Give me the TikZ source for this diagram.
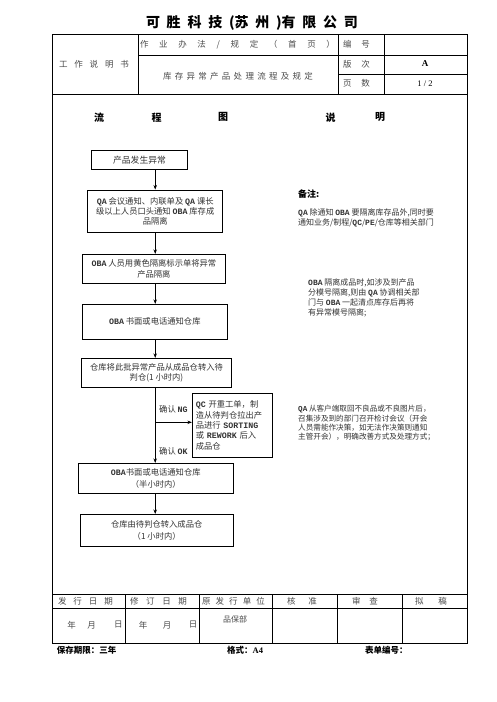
\documentclass[tikz,border=0pt]{standalone}
\usepackage{fontspec}
\setmainfont{Noto Sans CJK SC}
\newfontfamily\latmono{Liberation Mono}
\newfontfamily\latserif{Liberation Serif}
\newcommand\lat[1]{{\latmono\bfseries #1}}
\usetikzlibrary{arrows.meta}
\begin{document}
\begin{tikzpicture}[x=1pt,y=-1pt,
  every node/.style={inner sep=0pt, text=black!80},
  box/.style={draw=black, line width=0.8pt, align=center, font=\fontsize{8.3}{10.3}\selectfont},
  arr/.style={line width=0.8pt, -{Stealth[length=4.5pt,width=3.5pt]}},
  frame/.style={line width=0.8pt},
  cell/.style={font=\fontsize{8.5}{10}\selectfont, text=black!70},
  head/.style={font=\bfseries\fontsize{10}{12}\selectfont, text=black},
  note/.style={align=left, anchor=north west, font=\fontsize{8}{10}\selectfont},
  foot/.style={anchor=west, font=\bfseries\fontsize{8.5}{10}\selectfont, text=black},
  ]
\useasboundingbox (0,0) rectangle (496,702);
\fill[white] (0,0) rectangle (496,702);
% title
\node[font=\bfseries\fontsize{14}{16}\selectfont, text=black] (title) at (252,23) {\makebox[212pt][s]{可 胜 科 技 (苏 州 )有 限 公 司}};
% frame
\draw[frame] (52,34) rectangle (467,643);
\draw[frame] (52,94) -- (467,94);
\draw[frame] (138,34) -- (138,94) (338,34) -- (338,94) (384,34) -- (384,94);
\draw[frame] (138,55) -- (467,55) (338,74.5) -- (467,74.5);
\draw[frame] (52,594) -- (467,594) (52,608) -- (467,608);
\foreach \xx in {125.7,199.3,272.3,337.3,402.3} \draw[frame] (\xx,594) -- (\xx,643);
% header texts
\node[cell] (h1) at (94,64) {\makebox[70pt][s]{工 作 说 明 书}};
\node[cell] (h2) at (237.5,44.5) {\makebox[195pt][s]{作 业 办 法 / 规 定 （ 首 页 ）}};
\node[cell] (h3) at (238,76.5) {\makebox[150pt][s]{库 存 异 常 产 品 处 理 流 程 及 规 定}};
\node[cell] (h4) at (356.5,44.5) {\makebox[27pt][s]{编 号}};
\node[cell] (h5) at (356.5,64) {\makebox[27pt][s]{版 次}};
\node[cell] (h6) at (356.5,83.5) {\makebox[27pt][s]{页 数}};
\node[font=\latserif\bfseries\fontsize{9}{10}\selectfont, text=black] (h7) at (425,64) {A};
\node[font=\latserif\fontsize{8.5}{10}\selectfont, text=black] (h8) at (425,83.5) {1 / 2};
% headings
\node[head] (g1) at (99,117.3) {流};
\node[head] (g2) at (156.7,117.3) {程};
\node[head] (g3) at (223,117.3) {图};
\node[head] (g4) at (330.7,117.3) {说};
\node[head] (g5) at (380,117.3) {明};
% flow boxes
\coordinate (ax) at (155.2,0);
\node[box, minimum width=95.6pt, minimum height=19.3pt, font=\fontsize{8.8}{10.3}\selectfont] (b1) at (139.5,159.7) {产品发生异常};
\node[box, minimum width=135pt, minimum height=42.7pt] (b2) at (155.2,211.3) {\lat{QA} 会议通知、内联单及 \lat{QA} 课长\\级以上人员口头通知 \lat{OBA} 库存成\\品隔离};
\node[box, minimum width=142.3pt, minimum height=29pt] (b3) at (153.9,268.8) {\lat{OBA} 人员用黄色隔离标示单将异常\\产品隔离};
\node[box, minimum width=145pt, minimum height=35pt] (b4) at (154.8,321.8) {\lat{OBA} 书面或电话通知仓库};
\node[box, minimum width=150.4pt, minimum height=29pt] (b5) at (156.5,372.8) {仓库将此批异常产品从成品仓转入待\\判仓(1 小时内)};
\node[box, minimum width=80pt, minimum height=64pt, align=left, text width=73pt, inner xsep=3.5pt] (qc) at (232.3,425.3) {\lat{QC} 开重工单，制\\造从待判仓拉出产\\品进行 \lat{SORTING}\\或 \lat{REWORK} 后入\\成品仓};
\node[box, minimum width=155pt, minimum height=30pt, font=\fontsize{8.3}{11.5}\selectfont] (b6) at (155.8,478.3) {\lat{OBA}书面或电话通知仓库\\（半小时内）};
\node[box, minimum width=153.3pt, minimum height=31.7pt, font=\fontsize{8.3}{11.5}\selectfont] (b7) at (156.7,530.2) {仓库由待判仓转入成品仓\\（1 小时内）};
% connectors
\draw[arr] (b1.south -| ax) -- (b2.north -| ax);
\draw[arr] (b2.south -| ax) -- (b3.north -| ax);
\draw[arr] (b3.south -| ax) -- (b4.north -| ax);
\draw[arr] (b4.south -| ax) -- (b5.north -| ax);
\draw[arr] (b5.south -| ax) -- (b6.north -| ax);
\draw[arr] (b6.south -| ax) -- (b7.north -| ax);
\coordinate (br) at (155.2,422.3);
\draw[arr] (br) -- (br -| qc.west);
\node[anchor=west, font=\fontsize{8.3}{10}\selectfont] (ng) at (159,409.3) {确认 \lat{NG}};
\node[anchor=west, font=\fontsize{8.3}{10}\selectfont] (ok) at (159,451) {确认 \lat{OK}};
% notes
\node[anchor=west, font=\bfseries\fontsize{9}{10}\selectfont, text=black] (bz) at (298,194) {备注:};
\node[note] (n1) at (298,209) {\lat{QA} 除通知 \lat{OBA} 要隔离库存品外,同时要\\通知业务/制程/\lat{QC}/\lat{PE}/仓库等相关部门};
\node[note] (n2) at (308,278.3) {\lat{OBA} 隔离成品时,如涉及到产品\\分模号隔离,则由 \lat{QA} 协调相关部\\门与 \lat{OBA} 一起清点库存后再将\\有异常模号隔离;};
\node[note, font=\fontsize{7.6}{9.1}\selectfont] (n3) at (298,405.3) {\lat{QA} 从客户端取回不良品或不良图片后，\\召集涉及到的部门召开检讨会议（开会\\人员需能作决策，如无法作决策则通知\\主管开会），明确改善方式及处理方式；};
% footer table
\node[cell] (f1) at (85.5,601.5) {\makebox[55pt][s]{发 行 日 期}};
\node[cell] (f2) at (158.5,601.5) {\makebox[57pt][s]{修 订 日 期}};
\node[cell] (f3) at (233.5,601.5) {\makebox[63pt][s]{原 发 行 单 位}};
\node[cell] (f4) at (302,601.5) {\makebox[30pt][s]{核 准}};
\node[cell] (f5) at (365,601.5) {\makebox[26pt][s]{审 查}};
\node[cell] (f6) at (431,601.5) {\makebox[32pt][s]{拟 稿}};
\node[cell] (y1) at (71.7,625) {年};
\node[cell] (m1) at (91.7,625) {月};
\node[cell] (d1) at (118.3,625) {日};
\node[cell] (y2) at (143,625) {年};
\node[cell] (m2) at (167,625) {月};
\node[cell] (d2) at (193,625) {日};
\node[cell, font=\fontsize{8}{10}\selectfont] (pb) at (235,619) {品保部};
\node[foot] (s1) at (56.7,650.5) {保存期限：三年};
\node[foot] (s2) at (227,650.5) {格式：{\latserif\bfseries A4}};
\node[foot] (s3) at (365,650.5) {表单编号：};
\end{tikzpicture}
\end{document}
